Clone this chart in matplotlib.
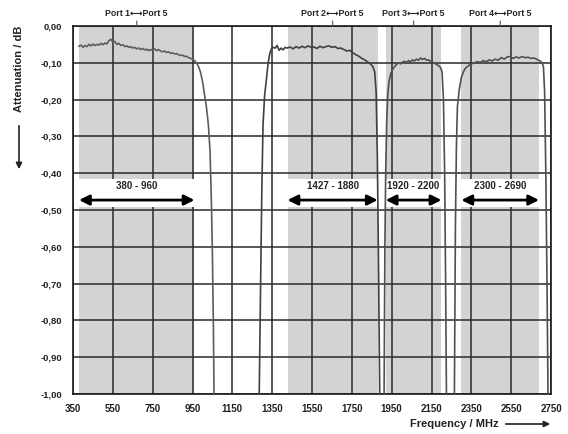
import matplotlib
matplotlib.use("Agg")
import matplotlib.pyplot as plt
from matplotlib.patches import Rectangle, FancyArrowPatch

plt.rcParams['font.family'] = ['Liberation Sans', 'DejaVu Sans']

# ---- data ----
bands = [(380, 960), (1427, 1880), (1920, 2200), (2300, 2690)]
band_labels = ["380 - 960", "1427 - 1880", "1920 - 2200", "2300 - 2690"]
port_labels = ["Port 1\u27F7Port 5", "Port 2\u27F7Port 5", "Port 3\u27F7Port 5", "Port 4\u27F7Port 5"]

p1_f = [380, 390, 400, 410, 420, 430, 440, 450, 460, 470, 480, 490, 500, 510, 520, 530,
        540, 550, 560, 570, 580, 590, 600, 610, 620, 630, 640, 650, 660, 670, 680, 690,
        700, 710, 720, 730, 740, 750, 760, 770, 780, 790, 800, 810, 820, 830, 840, 850,
        860, 870, 880, 890, 900, 910, 920, 930, 940, 950, 960, 970, 980, 990, 1000, 1010,
        1020, 1030, 1038, 1045, 1050, 1055, 1058]
p1_v = [-0.055, -0.052, -0.058, -0.053, -0.056, -0.050, -0.054, -0.049, -0.053, -0.050,
        -0.052, -0.047, -0.051, -0.046, -0.049, -0.040, -0.036, -0.044, -0.042, -0.050,
        -0.047, -0.053, -0.051, -0.056, -0.054, -0.058, -0.056, -0.060, -0.058, -0.062,
        -0.060, -0.064, -0.061, -0.065, -0.063, -0.067, -0.064, -0.066, -0.062, -0.067,
        -0.064, -0.068, -0.070, -0.068, -0.072, -0.070, -0.074, -0.073, -0.076, -0.075,
        -0.078, -0.080, -0.079, -0.083, -0.082, -0.086, -0.088, -0.090, -0.094, -0.100,
        -0.110, -0.125, -0.150, -0.185, -0.220, -0.270, -0.340, -0.480, -0.620, -0.820,
        -1.000]

p2_f = [1285, 1292, 1298, 1304, 1312, 1320, 1330, 1338, 1346, 1354, 1365, 1375, 1385,
        1395, 1405, 1415, 1425, 1440, 1455, 1470, 1485, 1500, 1515, 1530, 1545, 1560,
        1575, 1590, 1605, 1620, 1635, 1650, 1665, 1680, 1695, 1710, 1725, 1740, 1755,
        1770, 1785, 1800, 1815, 1830, 1845, 1855, 1865, 1872, 1878, 1884, 1890]
p2_v = [-1.000, -0.700, -0.450, -0.270, -0.190, -0.150, -0.100, -0.075, -0.062, -0.058,
        -0.060, -0.053, -0.066, -0.060, -0.065, -0.058, -0.060, -0.057, -0.062, -0.056,
        -0.060, -0.055, -0.059, -0.054, -0.058, -0.057, -0.061, -0.055, -0.059, -0.056,
        -0.054, -0.058, -0.056, -0.061, -0.060, -0.064, -0.068, -0.066, -0.073, -0.078,
        -0.082, -0.088, -0.092, -0.098, -0.104, -0.110, -0.125, -0.180, -0.350, -0.650,
        -1.000]

p3_f = [1912, 1916, 1920, 1925, 1930, 1937, 1945, 1955, 1965, 1975, 1985, 1995, 2005,
        2015, 2025, 2035, 2045, 2055, 2065, 2075, 2085, 2095, 2105, 2115, 2125, 2135,
        2145, 2155, 2165, 2175, 2185, 2195, 2203, 2210, 2216, 2221, 2225]
p3_v = [-1.000, -0.600, -0.400, -0.260, -0.190, -0.150, -0.130, -0.118, -0.110, -0.104,
        -0.100, -0.103, -0.098, -0.096, -0.099, -0.094, -0.097, -0.092, -0.095, -0.090,
        -0.093, -0.087, -0.091, -0.088, -0.093, -0.092, -0.096, -0.098, -0.101, -0.104,
        -0.108, -0.112, -0.125, -0.200, -0.400, -0.700, -1.000]

p4_f = [2265, 2270, 2275, 2280, 2290, 2300, 2310, 2320, 2335, 2350, 2365, 2380, 2395,
        2410, 2425, 2440, 2455, 2470, 2485, 2500, 2515, 2530, 2545, 2560, 2575, 2590,
        2605, 2620, 2635, 2650, 2665, 2680, 2695, 2705, 2712, 2718, 2724, 2730, 2735]
p4_v = [-1.000, -0.550, -0.330, -0.220, -0.170, -0.140, -0.125, -0.115, -0.108, -0.103,
        -0.100, -0.097, -0.099, -0.094, -0.097, -0.092, -0.095, -0.090, -0.093, -0.086,
        -0.090, -0.084, -0.083, -0.088, -0.084, -0.087, -0.083, -0.086, -0.085, -0.088,
        -0.087, -0.091, -0.095, -0.100, -0.110, -0.180, -0.400, -0.700, -1.000]

x_ticks = list(range(350, 2751, 200))
y_ticks = [0.0, -0.1, -0.2, -0.3, -0.4, -0.5, -0.6, -0.7, -0.8, -0.9, -1.0]
y_tick_labels = ["0,00", "-0,10", "-0,20", "-0,30", "-0,40", "-0,50", "-0,60",
                 "-0,70", "-0,80", "-0,90", "-1,00"]

# ---- figure ----
fig = plt.figure(figsize=(5.68, 4.34), dpi=100)
ax = fig.add_axes([73 / 568, 1 - 394 / 434, 478 / 568, 368 / 434])
ax.set_xlim(350, 2750)
ax.set_ylim(-1.0, 0.0)

shade = "#d3d3d3"
gap_top, gap_bot = -0.417, -0.493
for lo, hi in bands:
    ax.add_patch(Rectangle((lo, gap_top), hi - lo, -gap_top, facecolor=shade, edgecolor="none", zorder=0))
    ax.add_patch(Rectangle((lo, -1.0), hi - lo, 1.0 + gap_bot, facecolor=shade, edgecolor="none", zorder=0))
    # white gap that hides the vertical grid lines
    ax.add_patch(Rectangle((lo, gap_bot), hi - lo, gap_top - gap_bot, facecolor="white",
                           edgecolor="none", zorder=1.5))

ax.set_xticks(x_ticks)
ax.set_yticks(y_ticks)
ax.set_xticklabels([str(t) for t in x_ticks], fontsize=7, fontweight="bold", color="#222222")
ax.set_yticklabels(y_tick_labels, fontsize=6.8, fontweight="bold", color="#222222")
ax.tick_params(axis="x", length=0, pad=7)
ax.tick_params(axis="y", length=0, pad=8)
ax.grid(True, color="#2a2a2a", linewidth=1.1, zorder=1)
ax.set_axisbelow(True)
for s in ax.spines.values():
    s.set_color("#1a1a1a")
    s.set_linewidth(1.2)

line_cols = ["#5c5c5c", "#404040", "#505050", "#505050"]
for (f, v), c in zip([(p1_f, p1_v), (p2_f, p2_v), (p3_f, p3_v), (p4_f, p4_v)], line_cols):
    ax.plot(f, v, color=c, linewidth=1.2, zorder=3)

# range arrows
for (lo, hi), lab in zip(bands, band_labels):
    ax.annotate("", xy=(lo, -0.473), xytext=(hi, -0.473),
                arrowprops=dict(arrowstyle="<|-|>", color="black", lw=2.0,
                                mutation_scale=15, shrinkA=0, shrinkB=0), zorder=4)
    ax.text((lo + hi) / 2, -0.435, lab, ha="center", va="center", fontsize=7,
            fontweight="bold", color="#222222", zorder=4)

# port labels above
for (lo, hi), lab in zip(bands, port_labels):
    c = (lo + hi) / 2
    ax.annotate(lab, xy=(c, 0.0), xycoords="data",
                xytext=(c, 0.021), textcoords="data", ha="center", va="bottom",
                fontsize=6.3, fontweight="bold", color="#222222", annotation_clip=False,
                family=["Liberation Sans", "DejaVu Sans"],
                arrowprops=dict(arrowstyle="-", color="#555555", lw=0.8, shrinkA=0, shrinkB=0))

# y label with arrow
fig.text(19 / 568, 1 - 69 / 434, "Attenuation / dB", rotation=90, ha="center", va="center",
         fontsize=8, fontweight="bold", color="#222222")
fig.add_artist(FancyArrowPatch((19 / 568, 1 - 123 / 434), (19 / 568, 1 - 172 / 434),
               transform=fig.transFigure, arrowstyle="-|>", mutation_scale=9, color="#222222", lw=1.2))

# x label with arrow
fig.text(454 / 568, 1 - 424 / 434, "Frequency / MHz", ha="center", va="center",
         fontsize=8, fontweight="bold", color="#222222")
fig.add_artist(FancyArrowPatch((503 / 568, 1 - 424 / 434), (553 / 568, 1 - 424 / 434),
               transform=fig.transFigure, arrowstyle="-|>", mutation_scale=9, color="#222222", lw=1.2))

fig.savefig("out.png", dpi=100)
